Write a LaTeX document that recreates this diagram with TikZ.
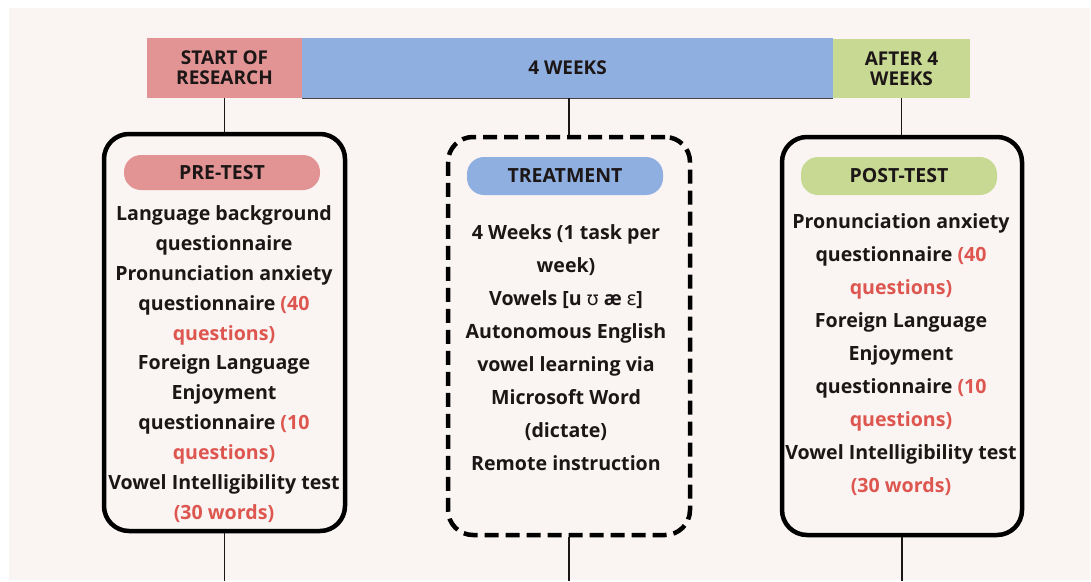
\documentclass[tikz,border=0pt]{standalone}
\usepackage{fontspec}
\setmainfont{Open Sans}
\newfontfamily\ipafont{Noto Sans}
\definecolor{bgc}{HTML}{FAF5F3}
\definecolor{pinkc}{HTML}{E29494}
\definecolor{bluec}{HTML}{8EAFE0}
\definecolor{greenc}{HTML}{C8D993}
\definecolor{redc}{HTML}{DE5650}
\definecolor{inkc}{HTML}{1C1616}
\newcommand\redtxt[1]{\textcolor{redc}{#1}}
\tikzset{
  topbox/.style={rectangle, inner sep=0pt, align=center, text=inkc,
    font=\bfseries\fontsize{19}{20}\selectfont},
  stagebox/.style={rectangle, rounded corners=25pt, line width=4.5pt, draw=black, inner sep=0pt},
  pill/.style={rectangle, rounded corners=17pt, inner sep=0pt, minimum width=196pt, text=inkc,
    font=\bfseries\fontsize{19.5}{20}\selectfont},
  bodytext/.style={align=center, inner sep=0pt, text=inkc},
  conn/.style={line width=1.6pt, draw=inkc}
}
\begin{document}
\begin{tikzpicture}[x=1pt,y=-1pt]
\useasboundingbox (0,0) rectangle (1091,581);
\fill[white] (0,0) rectangle (1091,581);
\fill[bgc] (9,8) rectangle (1090,580);

% timeline bar
\node[topbox, fill=pinkc, minimum width=155pt, minimum height=60pt] (start) at (224.5,68) {START OF\\RESEARCH};
\node[topbox, fill=bluec, minimum width=531pt, minimum height=60pt] (weeks) at (567.5,68) {4 WEEKS};
\node[topbox, fill=greenc, minimum width=137pt, minimum height=59pt] (after) at (901.5,68.5) {AFTER 4\\WEEKS};
\draw[line width=1pt, draw=inkc!80] (weeks.south west) -- (weeks.south east);

% stage boxes
\node[stagebox, minimum width=241pt, minimum height=397pt] (pre) at (224.5,332.5) {};
\node[stagebox, dash pattern=on 14pt off 7pt, minimum width=242pt, minimum height=398pt] (treat) at (569,336) {};
\node[stagebox, minimum width=240pt, minimum height=398pt] (post) at (902,336) {};

% connectors
\coordinate (preend) at (224.5,581);
\coordinate (treatend) at (569,581);
\coordinate (postend) at (902,581);
\draw[conn] (start.south) -- (pre.north);
\draw[conn] (weeks.south -| treat.north) -- (treat.north);
\draw[conn] (after.south) -- (after.south |- post.north);
\draw[conn] (pre.south) -- (preend);
\draw[conn] (treat.south) -- (treatend);
\draw[conn] (post.south) -- (postend);

% pills
\node[pill, fill=pinkc, minimum height=35pt] (prepill) at (222,172.5) {PRE-TEST};
\node[pill, fill=bluec, minimum height=38pt] (treatpill) at (565,176) {TREATMENT};
\node[pill, fill=greenc, minimum height=38pt] (postpill) at (899,176) {POST-TEST};

% texts
\node[bodytext, font=\bfseries\fontsize{19.6}{29.9}\selectfont] (pretxt) at (224,364)
{Language background\\questionnaire\\Pronunciation anxiety\\questionnaire \redtxt{(40}\\\redtxt{questions)}\\Foreign Language\\Enjoyment\\questionnaire \redtxt{(10}\\\redtxt{questions)}\\Vowel Intelligibility test\\\redtxt{(30 words)}};
\node[bodytext, font=\bfseries\fontsize{19.6}{33}\selectfont] (treattxt) at (566,348)
{4 Weeks (1 task per\\week)\\Vowels [u {\ipafont\bfseries ʊ} æ {\ipafont\bfseries ɛ}]\\Autonomous English\\vowel learning via\\Microsoft Word\\(dictate)\\Remote instruction};
\node[bodytext, font=\bfseries\fontsize{19.6}{33}\selectfont] (posttxt) at (901,354.5)
{Pronunciation anxiety\\questionnaire \redtxt{(40}\\\redtxt{questions)}\\Foreign Language\\Enjoyment\\questionnaire \redtxt{(10}\\\redtxt{questions)}\\Vowel Intelligibility test\\\redtxt{(30 words)}};
\end{tikzpicture}
\end{document}
